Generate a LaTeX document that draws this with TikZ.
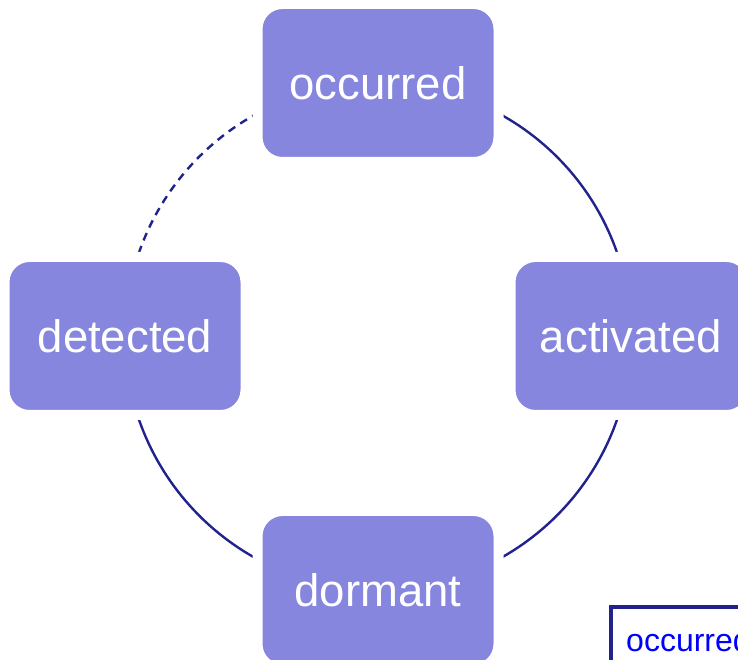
\documentclass[tikz,border=0pt]{standalone}
\usepackage{fontspec}
\setmainfont{Liberation Sans}
\definecolor{boxfill}{HTML}{8686DF}
\definecolor{linkcolor}{HTML}{22228E}
\pgfdeclarelayer{background}
\pgfsetlayers{background,main}
\tikzset{
  fault box/.style={fill=boxfill,draw=white,line width=10pt,rounded corners=25pt,
    minimum width=241pt,minimum height=158pt,text=white,font=\fontsize{45.5}{52}\selectfont},
  fault link/.style={linkcolor,line width=2.4pt},
  fault dashed/.style={fault link,dash pattern=on 8pt off 6pt},
  key frame/.style={linkcolor,line width=4pt},
  key text/.style={text=blue,font=\fontsize{32}{38}\selectfont,anchor=base west,inner sep=0pt}
}

\begin{document}
\begin{tikzpicture}[x=1pt,y=1pt]
  \useasboundingbox (0,0) rectangle (738,660);
  \node[fault box] (occurred) at (378,577) {occurred};
  \node[fault box] (activated) at (631,324) {activated};
  \node[fault box] (dormant) at (378,70) {dormant};
  \node[fault box] (detected) at (125,324) {detected};
  \begin{pgfonlayer}{background}
    \draw[fault link] (occurred.center) to[bend left=45] (activated.center);
    \draw[fault link] (activated.center) to[bend left=45] (dormant.center);
    \draw[fault link] (dormant.center) to[bend left=45] (detected.center);
    \draw[fault dashed] (detected.center) to[bend left=45] (occurred.center);
  \end{pgfonlayer}
  \draw[key frame] (611,53) rectangle (800,-40);
  \node[key text] (key) at (626,8) {occurred};
\end{tikzpicture}
\end{document}
